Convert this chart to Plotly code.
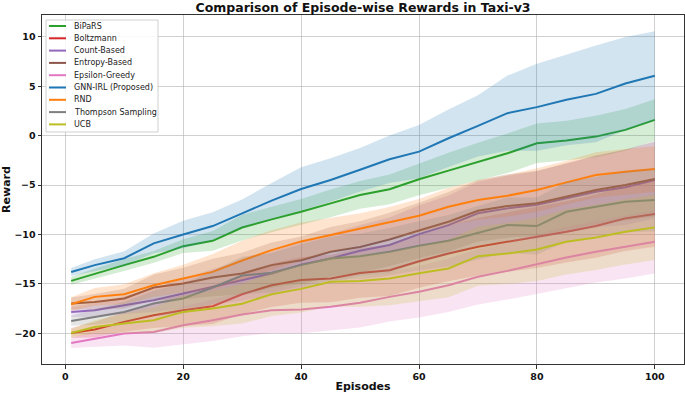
import plotly.graph_objects as go

# ---------------- data ----------------
episodes = [1, 5, 10, 15, 20, 25, 30, 35, 40, 45, 50, 55, 60, 65, 70, 75, 80, 85, 90, 95, 100]

names = ["BiPaRS", "Boltzmann", "Count-Based", "Entropy-Based", "Epsilon-Greedy",
         "GNN-IRL (Proposed)", "RND", "Thompson Sampling", "UCB"]

bipars_mean = [-14.69, -13.95, -13.1, -12.26, -11.18, -10.64, -9.3, -8.47, -7.7, -6.85, -6.0,
               -5.43, -4.42, -3.54, -2.63, -1.79, -0.77, -0.5, -0.1, 0.58, 1.59]
boltzmann_mean = [-19.96, -19.62, -18.84, -18.17, -17.66, -17.25, -16.05, -15.13, -14.6, -14.45, -13.9,
                  -13.61, -12.7, -11.92, -11.24, -10.74, -10.3, -9.73, -9.15, -8.37, -7.93]
count_mean = [-17.83, -17.66, -17.15, -16.65, -15.97, -15.3, -14.69, -13.95, -13.05, -12.42, -11.65,
              -11.07, -9.96, -9.05, -7.86, -7.36, -7.0, -6.35, -5.67, -5.23, -4.5]
entropy_mean = [-16.98, -16.82, -16.48, -15.36, -14.96, -14.35, -13.95, -13.1, -12.6, -11.75, -11.27,
                -10.5, -9.6, -8.71, -7.6, -7.12, -6.85, -6.18, -5.5, -5.0, -4.39]
epsilon_mean = [-20.97, -20.53, -20.02, -19.86, -19.18, -18.67, -18.1, -17.66, -17.6, -17.32, -16.9,
                -16.31, -15.8, -15.13, -14.28, -13.68, -13.03, -12.32, -11.75, -11.24, -10.74]
gnn_mean = [-13.8, -13.1, -12.4, -10.9, -10.0, -9.15, -7.86, -6.58, -5.4, -4.49, -3.45,
            -2.39, -1.62, -0.27, 0.98, 2.27, 2.88, 3.62, 4.22, 5.27, 6.05]
rnd_mean = [-17.05, -16.31, -16.04, -15.13, -14.45, -13.78, -12.63, -11.58, -10.7, -10.06, -9.45,
            -8.81, -8.1, -7.19, -6.51, -6.08, -5.5, -4.73, -3.98, -3.65, -3.37]
thompson_mean = [-18.74, -18.34, -17.83, -16.98, -16.48, -15.36, -14.15, -13.88, -13.1, -12.42, -12.19,
                 -11.75, -11.15, -10.64, -9.83, -9.05, -9.15, -7.7, -7.19, -6.69, -6.51]
ucb_mean = [-19.96, -19.35, -19.0, -18.67, -17.83, -17.49, -17.0, -16.04, -15.5, -14.79, -14.7,
            -14.45, -13.92, -13.44, -12.19, -11.92, -11.51, -10.74, -10.3, -9.73, -9.28]

bipars_std = [0.4, 0.5, 0.6, 0.6, 0.7, 1.0, 1.3, 1.3, 1.3, 1.4, 1.4, 1.5, 1.6, 1.8, 1.9, 2.0, 2.0, 2.0, 2.1, 2.1, 2.1]
boltzmann_std = [0.5, 0.8, 1.0, 1.3, 1.6, 1.8, 2.0, 2.2, 2.3, 2.4, 2.5, 2.6, 2.7, 2.8, 2.9, 3.0, 3.1, 3.1, 3.2, 3.3, 3.3]
count_std = [0.5, 0.7, 0.9, 1.2, 1.5, 1.8, 2.0, 2.2, 2.4, 2.5, 2.6, 2.8, 2.9, 3.0, 3.2, 3.3, 3.4, 3.5, 3.6, 3.8, 3.9]
entropy_std = [0.6, 0.8, 1.0, 1.3, 1.6, 1.9, 2.1, 2.3, 2.4, 2.5, 2.6, 2.7, 2.8, 3.0, 3.1, 3.2, 3.3, 3.4, 3.5, 3.6, 3.8]
epsilon_std = [0.5, 0.8, 1.2, 1.6, 1.9, 2.1, 2.2, 2.3, 2.4, 2.4, 2.5, 2.5, 2.6, 2.7, 2.8, 2.9, 3.0, 3.1, 3.1, 3.2, 3.2]
gnn_std = [0.4, 0.6, 0.7, 1.0, 1.4, 1.4, 1.4, 1.8, 2.2, 2.2, 2.2, 2.4, 2.7, 2.9, 3.1, 3.8, 4.4, 4.6, 4.9, 4.7, 4.5]
rnd_std = [0.7, 0.9, 1.0, 1.2, 1.4, 1.8, 2.0, 2.0, 1.9, 1.7, 1.6, 1.6, 1.7, 1.9, 2.0, 2.1, 2.2, 2.2, 2.3, 2.3, 2.3]
thompson_std = [0.5, 0.8, 1.0, 1.3, 1.5, 1.7, 1.9, 2.0, 2.1, 2.2, 2.3, 2.4, 2.5, 2.6, 2.7, 2.8, 2.9, 3.0, 3.0, 3.1, 3.2]
ucb_std = [0.4, 0.7, 1.0, 1.3, 1.6, 1.8, 2.0, 2.2, 2.4, 2.5, 2.6, 2.7, 2.8, 2.9, 3.0, 3.1, 3.2, 3.3, 3.3, 3.3, 3.3]

means = [bipars_mean, boltzmann_mean, count_mean, entropy_mean, epsilon_mean,
         gnn_mean, rnd_mean, thompson_mean, ucb_mean]
stds = [bipars_std, boltzmann_std, count_std, entropy_std, epsilon_std,
        gnn_std, rnd_std, thompson_std, ucb_std]

colors = [(44, 160, 44), (214, 39, 40), (148, 103, 189), (140, 86, 75), (227, 119, 194),
          (31, 119, 180), (255, 127, 14), (127, 127, 127), (188, 189, 34)]

x_ticks = [0, 20, 40, 60, 80, 100]
y_ticks = [-20, -15, -10, -5, 0, 5, 10]

# ---------------- layout constants ----------------
W, H = 685, 393
ML, MR, MT, MB = 42, 1, 15, 29
PW, PH = W - ML - MR, H - MT - MB
FONT = "DejaVu Sans"


def xp(px):
    return (px - ML) / PW


def yp(py):
    return 1 - (py - MT) / PH


fig = go.Figure()

for name, m, s, c in zip(names, means, stds, colors):
    upper = [a + b for a, b in zip(m, s)]
    lower = [a - b for a, b in zip(m, s)]
    fig.add_trace(go.Scatter(
        x=episodes + episodes[::-1], y=upper + lower[::-1],
        fill="toself", fillcolor=f"rgba({c[0]},{c[1]},{c[2]},0.2)",
        line=dict(width=0), mode="lines", showlegend=False, hoverinfo="skip"))
    fig.add_trace(go.Scatter(
        x=episodes, y=m, mode="lines", name=name,
        line=dict(color=f"rgb({c[0]},{c[1]},{c[2]})", width=2), showlegend=False))

# custom legend (matplotlib-like compact legend)
box_l, box_t, box_r, box_b = 46, 20, 158, 132
fig.add_shape(type="rect", xref="paper", yref="paper",
              x0=xp(box_l), x1=xp(box_r), y0=yp(box_b), y1=yp(box_t),
              line=dict(color="#d0d0d0", width=1), fillcolor="rgba(255,255,255,0.85)", layer="above")
for i, (name, c) in enumerate(zip(names, colors)):
    cy = 26 + 12.3 * i
    fig.add_shape(type="line", xref="paper", yref="paper",
                  x0=xp(49), x1=xp(66), y0=yp(cy), y1=yp(cy),
                  line=dict(color=f"rgb({c[0]},{c[1]},{c[2]})", width=2), layer="above")
    fig.add_annotation(xref="paper", yref="paper", x=xp(71.5), y=yp(cy),
                       text=name, showarrow=False, xanchor="left", yanchor="middle",
                       font=dict(family=FONT, size=8, color="#222"))

axis_common = dict(
    showgrid=True, gridcolor="rgba(176,176,176,0.6)", gridwidth=1,
    showline=True, linecolor="#333", linewidth=1, mirror=True,
    ticks="outside", ticklen=3.5, tickcolor="#333", tickwidth=1,
    zeroline=False, automargin=False,
    tickfont=dict(family=FONT, size=9.5, color="#111", weight="bold"),
)

fig.update_layout(
    width=W, height=H,
    margin=dict(l=ML, r=MR, t=MT, b=MB),
    paper_bgcolor="white", plot_bgcolor="white",
    showlegend=False,
    title=dict(text="<b>Comparison of Episode-wise Rewards in Taxi-v3</b>",
               x=(ML + PW / 2) / W, xanchor="center", y=1 - 7.5 / H, yanchor="middle",
               font=dict(family=FONT, size=12.5, color="#111")),
    xaxis=dict(range=[-3.95, 104.95], tickvals=x_ticks,
               title=dict(text="<b>Episodes</b>", font=dict(family=FONT, size=11, color="#111"), standoff=2),
               **axis_common),
    yaxis=dict(range=[-23.1, 12.2], tickvals=y_ticks,
               title=dict(text="<b>Reward</b>", font=dict(family=FONT, size=11, color="#111"), standoff=3),
               **axis_common),
)

fig.write_html("out.html", config={"displayModeBar": False},
               post_script="document.body.style.margin='0px';document.body.style.overflow='hidden';")
